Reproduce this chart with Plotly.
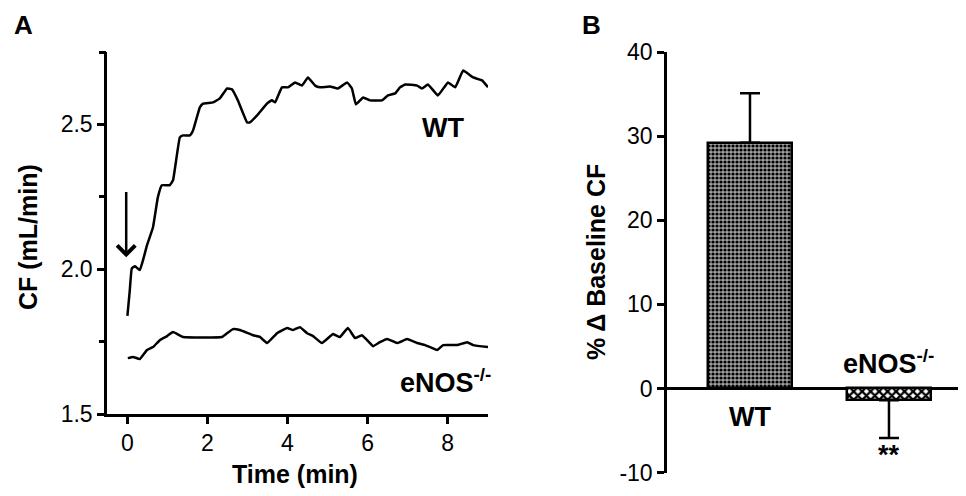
import plotly.graph_objects as go

# ---- Panel A data: coronary flow time courses ----
wt_time = [0.0, 0.06, 0.11, 0.19, 0.31, 0.39, 0.49, 0.64, 0.76, 0.86, 1.06, 1.14, 1.31, 1.39, 1.56,
           1.64, 1.81, 1.89, 2.14, 2.31, 2.49, 2.61, 2.76, 2.99, 3.06, 3.24, 3.49, 3.61, 3.69, 3.86,
           4.01, 4.19, 4.36, 4.51, 4.69, 4.81, 5.06, 5.26, 5.49, 5.61, 5.71, 5.89, 6.06, 6.36, 6.51,
           6.69, 6.81, 6.94, 7.24, 7.36, 7.51, 7.76, 8.01, 8.19, 8.39, 8.64, 8.86, 9.01]
wt_cf = [1.839, 1.928, 2.003, 2.010, 1.997, 2.031, 2.083, 2.145, 2.248, 2.290, 2.290, 2.307, 2.455,
         2.462, 2.462, 2.479, 2.559, 2.572, 2.576, 2.590, 2.624, 2.621, 2.583, 2.507, 2.507, 2.531,
         2.572, 2.583, 2.576, 2.628, 2.628, 2.645, 2.634, 2.662, 2.634, 2.628, 2.631, 2.624, 2.645,
         2.624, 2.569, 2.593, 2.583, 2.583, 2.600, 2.607, 2.628, 2.638, 2.634, 2.624, 2.638, 2.600,
         2.645, 2.628, 2.686, 2.662, 2.652, 2.628]

ko_time = [0.01, 0.14, 0.31, 0.49, 0.64, 0.81, 0.99, 1.14, 1.39, 2.36, 2.49, 2.64, 2.81, 3.14, 3.31,
           3.49, 3.74, 3.99, 4.14, 4.31, 4.49, 4.64, 4.86, 5.14, 5.31, 5.51, 5.69, 5.86, 6.06, 6.14,
           6.31, 6.49, 6.74, 6.99, 7.24, 7.44, 7.74, 7.89, 8.24, 8.49, 8.64, 9.01]
ko_cf = [1.693, 1.697, 1.690, 1.721, 1.731, 1.755, 1.769, 1.783, 1.766, 1.766, 1.779, 1.793, 1.790,
         1.772, 1.766, 1.745, 1.779, 1.797, 1.790, 1.800, 1.779, 1.769, 1.745, 1.776, 1.766, 1.797,
         1.762, 1.772, 1.745, 1.734, 1.748, 1.759, 1.745, 1.759, 1.745, 1.738, 1.721, 1.738, 1.738,
         1.748, 1.738, 1.731]

a_yticks = [1.5, 2.0, 2.5]
a_ytext = ["1.5", "2.0", "2.5"]
a_yminor = [1.75, 2.25, 2.75]
a_xticks = [0, 2, 4, 6, 8]

# ---- Panel B data: % change from baseline CF ----
groups = ["WT", "eNOS"]
pct_change = [29.2, -1.4]
err_up = [5.9, 0.0]
err_down = [0.0, 4.5]
b_yticks = [-10, 0, 10, 20, 30, 40]
b_ytext = ["-10", "0", "10", "20", "30", "40"]

FONT = "Liberation Sans, Arial, sans-serif"

fig = go.Figure()

fig.add_trace(go.Scatter(x=wt_time, y=wt_cf, mode="lines",
                         line=dict(color="black", width=2.5, shape="spline", smoothing=0.3),
                         xaxis="x", yaxis="y", showlegend=False, hoverinfo="skip"))
fig.add_trace(go.Scatter(x=ko_time, y=ko_cf, mode="lines",
                         line=dict(color="black", width=2.5, shape="spline", smoothing=0.3),
                         xaxis="x", yaxis="y", showlegend=False, hoverinfo="skip"))
# carrier trace for the unlabeled intermediate-tick axis (invisible)
fig.add_trace(go.Scatter(x=ko_time[:1], y=ko_cf[:1], mode="markers", marker=dict(opacity=0),
                         xaxis="x", yaxis="y3", showlegend=False, hoverinfo="skip"))

# WT bar
fig.add_trace(go.Bar(x=[0], y=[pct_change[0]], width=0.6, xaxis="x2", yaxis="y2",
                     marker=dict(color="#888888", line=dict(color="black", width=2.5),
                                 pattern=dict(shape=".", fgcolor="black", bgcolor="#a0a0a0",
                                              size=4, solidity=0.5)),
                     error_y=dict(type="data", symmetric=False, array=[err_up[0]],
                                  arrayminus=[err_down[0]], color="black", thickness=2.5, width=10),
                     showlegend=False, hoverinfo="skip"))
# eNOS bar
fig.add_trace(go.Bar(x=[1], y=[pct_change[1]], width=0.6, xaxis="x2", yaxis="y2",
                     marker=dict(color="white", line=dict(color="black", width=2.5),
                                 pattern=dict(shape="x", fgcolor="black", bgcolor="white",
                                              size=6, solidity=0.6)),
                     error_y=dict(type="data", symmetric=False, array=[err_up[1]],
                                  arrayminus=[err_down[1]], color="black", thickness=2.5, width=10),
                     showlegend=False, hoverinfo="skip"))

# page body has an 8px margin: draw a 958x488 figure so it fills the 966x496 window
OFF = 8
W, H = 966 - OFF, 496 - OFF
def px(x):
    return (x - OFF) / W
def py(y):
    return 1 - (y - OFF) / H

axis_common = dict(showgrid=False, zeroline=False, showline=True, linecolor="black", linewidth=2.5,
                   ticks="outside", ticklen=7, tickwidth=2.5, tickcolor="black", automargin=False,
                   tickfont=dict(family=FONT, size=23, color="black"))

fig.update_layout(
    template="none",
    width=W, height=H, margin=dict(l=0, r=0, t=0, b=0, pad=0),
    paper_bgcolor="white", plot_bgcolor="white",
    font=dict(family=FONT, color="black"),
    xaxis=dict(domain=[px(107), px(488)], range=[-0.51, 9.01], tickvals=a_xticks,
               anchor="y", **axis_common),
    yaxis=dict(domain=[py(414), py(52)], range=[1.5, 2.75], tickvals=a_yticks, ticktext=a_ytext,
               anchor="x", **axis_common),
    yaxis3=dict(domain=[py(414), py(52)], range=[1.5, 2.75], tickvals=a_yminor,
                showticklabels=False, overlaying="y", side="left", anchor="x",
                showgrid=False, zeroline=False, showline=False, ticks="outside", ticklen=7,
                tickwidth=2.5, tickcolor="black", automargin=False),
    xaxis2=dict(domain=[px(667), px(965)], range=[-0.597, 1.547], showline=False, showgrid=False,
                zeroline=False, showticklabels=False, ticks="", anchor="y2", automargin=False),
    yaxis2=dict(domain=[py(472.6), py(52)], range=[-10, 40], tickvals=b_yticks, ticktext=b_ytext,
                anchor="x2",
                **{**axis_common, "zeroline": True, "zerolinecolor": "black", "zerolinewidth": 2.5}),
    bargap=0,
)

ann = []
def txt(x, y, s, size, xref="paper", yref="paper", angle=0):
    ann.append(dict(x=x, y=y, xref=xref, yref=yref, text=s, showarrow=False, textangle=angle,
                    font=dict(family=FONT, size=size, color="black"), xanchor="center",
                    yanchor="middle"))

txt(px(23), py(25), "<b>A</b>", 26)
txt(px(591), py(25), "<b>B</b>", 26)
txt(px(295), py(474), "<b>Time (min)</b>", 25)
txt(px(28), py(237), "<b>CF (mL/min)</b>", 25, angle=-90)
txt(px(596), py(262), "<b>% Δ Baseline CF</b>", 25, angle=-90)
txt(7.89, 2.486, "<b>WT</b>", 27, xref="x", yref="y")
txt(7.94, 1.614, "<b>eNOS<sup>-/-</sup></b>", 27, xref="x", yref="y")
txt(0, -3.4, "<b>WT</b>", 27, xref="x2", yref="y2")
txt(1, 3.2, "<b>eNOS<sup>-/-</sup></b>", 27, xref="x2", yref="y2")
txt(1, -7.9, "<b>**</b>", 27, xref="x2", yref="y2")

# stimulus arrow
ann.append(dict(x=-0.03, y=2.041, ax=-0.03, ay=2.272, xref="x", yref="y", axref="x", ayref="y",
                showarrow=True, arrowhead=4, arrowsize=1.4, arrowwidth=2.5, arrowcolor="black",
                text=""))

fig.update_layout(annotations=ann)

fig.write_html("out.html")
